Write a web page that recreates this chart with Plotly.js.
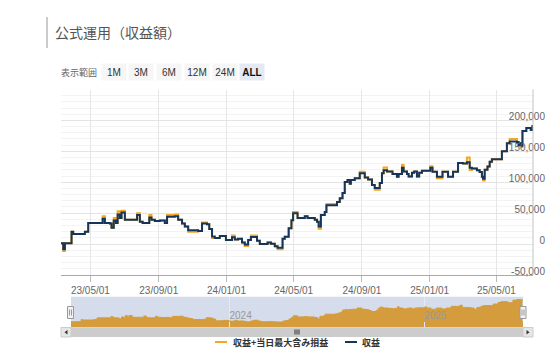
<!DOCTYPE html>
<html>
<head>
<meta charset="utf-8">
<script src="https://cdn.plot.ly/plotly-3.0.1.min.js"></script>
<style>
html,body{margin:0;padding:0;background:#fff;}
#chart{width:552px;height:357px;}
</style>
</head>
<body>
<div id="chart"></div>
<script>
// ---- data ----
const dates = [
'2023-03-09','2023-03-13','2023-03-16','2023-03-28','2023-03-31','2023-04-21','2023-04-27','2023-05-23','2023-05-27','2023-06-05',
'2023-06-08','2023-06-12','2023-06-16','2023-06-19','2023-06-23','2023-06-26','2023-07-02','2023-07-24','2023-07-29','2023-08-03',
'2023-08-15','2023-08-19','2023-08-25','2023-09-03','2023-09-12','2023-09-16','2023-09-30','2023-10-06','2023-10-13','2023-10-18',
'2023-10-24','2023-11-11','2023-11-18','2023-11-27','2023-12-01','2023-12-06','2023-12-11','2023-12-20','2023-12-31','2024-01-11',
'2024-01-16','2024-01-22','2024-01-29','2024-02-03','2024-02-09','2024-02-14','2024-02-25','2024-03-01','2024-03-15','2024-03-21',
'2024-03-28','2024-04-02','2024-04-11','2024-04-15','2024-04-22','2024-04-27','2024-04-30','2024-05-08','2024-05-21','2024-05-26',
'2024-06-08','2024-06-12','2024-06-15','2024-06-19','2024-06-26','2024-06-29','2024-07-18','2024-07-23','2024-07-28','2024-08-01',
'2024-08-06','2024-08-10','2024-08-12','2024-08-19','2024-08-28','2024-09-06','2024-09-12','2024-09-19','2024-09-24','2024-10-03',
'2024-10-07','2024-10-10','2024-10-16','2024-10-26','2024-11-03','2024-11-06','2024-11-12','2024-11-15','2024-11-21','2024-11-24',
'2024-11-30','2024-12-04','2024-12-09','2024-12-13','2024-12-18','2025-01-02','2025-01-06','2025-01-14','2025-01-24','2025-02-03',
'2025-02-12','2025-02-21','2025-03-02','2025-03-09','2025-03-14','2025-03-18','2025-03-27','2025-04-01','2025-04-05','2025-04-07',
'2025-04-10','2025-04-15','2025-04-19','2025-04-23','2025-05-11','2025-05-20','2025-05-25','2025-06-07','2025-06-10','2025-06-14',
'2025-06-16','2025-06-17','2025-06-24','2025-07-02','2025-07-05'
];

// 収益
const profit = [
1500,-8500,1500,19800,16400,19800,34200,41000,34200,33200,
26300,38200,34200,48000,42100,51000,39200,47000,36200,34200,
43100,39200,37200,38200,34200,44100,45100,39200,33200,28300,
22300,21300,33200,32200,24300,12400,10000,12900,6500,11000,
7500,8500,2500,-500,6500,11500,5500,0,2500,500,
-3500,-6000,8500,12000,25800,38700,50000,42100,45100,42100,
39200,36200,28300,47000,52000,62900,67900,74300,82700,100500,
103500,97600,103500,106500,114400,107500,104500,95600,90600,98600,
114400,119400,117400,113400,109000,113400,123300,117400,113400,109500,
115400,117400,109500,115400,118400,123300,116900,109000,116900,109000,
116900,131200,130200,132200,123300,122300,119400,116400,109000,105500,
120400,125300,133200,137200,150000,163000,166000,165000,160000,163000,
159000,182700,187700,184700,192600
];

// 収益+当日最大含み損益
const profitWithMax = [
1500,-11000,1500,19800,16400,19800,34200,45000,34200,33200,
26300,42000,34200,53000,42100,54000,39200,50000,36200,34200,
47000,39200,37200,38200,34200,47000,48000,39200,33200,28300,
20000,21300,35000,32200,24300,10000,10000,12900,6500,14000,
7500,8500,2500,-3000,6500,14000,5500,0,2500,500,
-3500,-8500,8500,12000,25800,38700,52000,42100,45100,42100,
39200,36200,25000,47000,52000,65000,67900,74300,82700,100500,
103500,97600,103500,106500,117000,107500,104500,95600,88000,98600,
114400,124000,117400,113400,109000,113400,128000,117400,113400,109500,
115400,117400,109500,115400,118400,126000,116900,106500,116900,109000,
116900,131200,130200,140000,120000,122300,119400,116400,109000,103000,
120400,125300,133200,137200,150000,163000,170000,165000,160000,163000,
157000,182700,187700,184700,192600
];

const seriesNames = ['収益+当日最大含み損益', '収益'];
const yTickVals = [-50000, 0, 50000, 100000, 150000, 200000, 250000];
const yTickText = ['-50,000', '0', '50,000', '100,000', '150,000', '200,000', ''];
const rangeButtons = ['1M', '3M', '6M', '12M', '24M', 'ALL'];
const titleText = '公式運用（収益額）';
const rangeLabel = '表示範囲';

// ---- layout helpers (pixel -> paper) ----
const W = 552, H = 357;
const X = p => p / W;
const Y = p => 1 - p / H;

const ORANGE = '#f5a623';
const NAVY = '#15365a';
const NAVFILL = '#d49c3c';

const traces = [
  {x: dates, y: profitWithMax, name: seriesNames[0], type: 'scatter', mode: 'lines',
   line: {color: ORANGE, width: 2, shape: 'hv'}, xaxis: 'x', yaxis: 'y', showlegend: false},
  {x: dates, y: profit, name: seriesNames[1], type: 'scatter', mode: 'lines',
   line: {color: NAVY, width: 2, shape: 'hv'}, xaxis: 'x', yaxis: 'y', showlegend: false},
  {x: dates, y: profitWithMax, name: seriesNames[0], type: 'scatter', mode: 'lines',
   line: {color: NAVFILL, width: 1, shape: 'hv'}, fill: 'tozeroy', fillcolor: NAVFILL,
   xaxis: 'x2', yaxis: 'y2', showlegend: false}
];

const btnX = [113.8, 141.3, 169, 197, 224.7, 252];
const annotations = [
  {text: rangeLabel, x: X(79.2), y: Y(72.5), xref: 'paper', yref: 'paper', showarrow: false,
   xanchor: 'center', yanchor: 'middle', font: {size: 9, color: '#666', family: 'Noto Sans CJK JP'}}
];
rangeButtons.forEach((b, i) => {
  const active = b === 'ALL';
  annotations.push({
    text: active ? '<b>' + b + '</b>' : b,
    x: X(btnX[i]), y: Y(72.3), xref: 'paper', yref: 'paper', showarrow: false,
    xanchor: 'center', yanchor: 'middle', width: 24, height: 16, borderpad: 0,
    bgcolor: active ? '#e4e9f4' : '#f6f6f6',
    font: {size: 10, color: active ? '#111' : '#333', family: 'Liberation Sans, Arial, sans-serif'}
  });
});
annotations.push(
  {text: '<b>' + seriesNames[0] + '</b>', x: X(231), y: Y(342), xref: 'paper', yref: 'paper', showarrow: false,
   xanchor: 'left', yanchor: 'middle', font: {size: 9, color: '#333', family: 'Noto Sans CJK JP'}},
  {text: '<b>' + seriesNames[1] + '</b>', x: X(359.5), y: Y(342), xref: 'paper', yref: 'paper', showarrow: false,
   xanchor: 'left', yanchor: 'middle', font: {size: 9, color: '#333', family: 'Noto Sans CJK JP'}}
);

const P = (x, y) => X(x).toFixed(5) + ',' + Y(y).toFixed(5);
const shapes = [
  // title bar
  {type: 'line', xref: 'paper', yref: 'paper', x0: X(47), x1: X(47), y0: Y(17), y1: Y(48),
   line: {color: '#cccccc', width: 2}},
  // navigator mask
  {type: 'rect', xref: 'paper', yref: 'paper', x0: X(71), x1: X(523), y0: Y(327.3), y1: Y(296.7),
   fillcolor: '#d5dcec', line: {width: 0}, layer: 'below'},
  // navigator fill below zero
  {type: 'rect', xref: 'paper', yref: 'paper', x0: X(71), x1: X(523), y0: Y(327.3), y1: Y(321.6),
   fillcolor: NAVFILL, line: {width: 0}, layer: 'below'},
  // right border of plot
  {type: 'line', xref: 'paper', yref: 'paper', x0: X(533), x1: X(533), y0: Y(275), y1: Y(89.5),
   line: {color: '#c4c4c4', width: 1}},
  // scrollbar track
  {type: 'rect', xref: 'paper', yref: 'paper', x0: X(71), x1: X(523), y0: Y(337), y1: Y(327.5),
   fillcolor: '#cccccc', line: {width: 0}},
  // scrollbar buttons
  {type: 'rect', xref: 'paper', yref: 'paper', x0: X(61), x1: X(71), y0: Y(337), y1: Y(327.5),
   fillcolor: '#e6e6e6', line: {color: '#cccccc', width: 1}},
  {type: 'rect', xref: 'paper', yref: 'paper', x0: X(523), x1: X(533), y0: Y(337), y1: Y(327.5),
   fillcolor: '#e6e6e6', line: {color: '#cccccc', width: 1}},
  {type: 'path', xref: 'paper', yref: 'paper',
   path: 'M' + P(67.5, 330) + 'L' + P(67.5, 334.5) + 'L' + P(64.5, 332.25) + 'Z',
   fillcolor: '#333', line: {width: 0}},
  {type: 'path', xref: 'paper', yref: 'paper',
   path: 'M' + P(526.5, 330) + 'L' + P(526.5, 334.5) + 'L' + P(529.5, 332.25) + 'Z',
   fillcolor: '#333', line: {width: 0}},
  // grip
  {type: 'line', xref: 'paper', yref: 'paper', x0: X(295), x1: X(295), y0: Y(329.5), y1: Y(334.5), line: {color: '#333', width: 1}},
  {type: 'line', xref: 'paper', yref: 'paper', x0: X(297), x1: X(297), y0: Y(329.5), y1: Y(334.5), line: {color: '#333', width: 1}},
  {type: 'line', xref: 'paper', yref: 'paper', x0: X(299), x1: X(299), y0: Y(329.5), y1: Y(334.5), line: {color: '#333', width: 1}},
  // handles
  {type: 'rect', xref: 'paper', yref: 'paper', x0: X(67.5), x1: X(73.5), y0: Y(318.5), y1: Y(306.5),
   fillcolor: '#f2f2f2', line: {color: '#999', width: 1}},
  {type: 'line', xref: 'paper', yref: 'paper', x0: X(69.5), x1: X(69.5), y0: Y(309.5), y1: Y(315.5), line: {color: '#999', width: 1}},
  {type: 'line', xref: 'paper', yref: 'paper', x0: X(71.5), x1: X(71.5), y0: Y(309.5), y1: Y(315.5), line: {color: '#999', width: 1}},
  {type: 'rect', xref: 'paper', yref: 'paper', x0: X(520), x1: X(526), y0: Y(318.5), y1: Y(306.5),
   fillcolor: '#f2f2f2', line: {color: '#999', width: 1}},
  {type: 'line', xref: 'paper', yref: 'paper', x0: X(522), x1: X(522), y0: Y(309.5), y1: Y(315.5), line: {color: '#999', width: 1}},
  {type: 'line', xref: 'paper', yref: 'paper', x0: X(524), x1: X(524), y0: Y(309.5), y1: Y(315.5), line: {color: '#999', width: 1}},
  // legend symbols
  {type: 'line', xref: 'paper', yref: 'paper', x0: X(215), x1: X(227), y0: Y(342), y1: Y(342), line: {color: ORANGE, width: 2}},
  {type: 'line', xref: 'paper', yref: 'paper', x0: X(345), x1: X(357), y0: Y(342), y1: Y(342), line: {color: NAVY, width: 2}}
];

const layout = {
  width: W, height: H,
  margin: {l: 0, r: 0, t: 0, b: 0, pad: 0},
  paper_bgcolor: '#ffffff', plot_bgcolor: '#ffffff',
  font: {family: 'Liberation Sans, Noto Sans CJK JP, sans-serif', size: 10, color: '#666'},
  title: {text: titleText, x: X(55), xanchor: 'left', y: Y(33.5), yanchor: 'middle',
          xref: 'paper', yref: 'paper',
          font: {size: 14, color: '#555', family: 'Noto Sans CJK JP'}},
  showlegend: false,
  xaxis: {
    domain: [X(61), X(533)], anchor: 'y', type: 'date',
    range: ['2023-03-09', '2025-07-06'],
    tickmode: 'linear', tick0: '2023-01-01', dtick: 'M4', tickformat: '%y/%m/%d',
    showgrid: true, gridcolor: '#e6e6e6', gridwidth: 1,
    showline: true, linecolor: '#aaaaaa', linewidth: 1,
    ticks: 'outside', ticklen: 6, tickcolor: '#bbbbbb',
    tickfont: {size: 10, color: '#666'}, zeroline: false, fixedrange: true
  },
  yaxis: {
    domain: [1 - 275 / H, 1 - 89.5 / H], anchor: 'free', position: X(548), side: 'right',
    range: [-50000, 250000],
    tickmode: 'array', tickvals: yTickVals, ticktext: yTickText,
    ticklabelposition: 'inside', ticklabelshift: -4, ticklabeloverflow: 'allow', ticks: '',
    showgrid: true, gridcolor: '#e3e3e3', gridwidth: 1,
    minor: {dtick: 10000, tick0: 0, showgrid: true, gridcolor: '#f3f3f3', gridwidth: 1},
    showline: false, zeroline: false,
    tickfont: {size: 10, color: '#666'}, fixedrange: true
  },
  xaxis2: {
    domain: [X(71), X(523)], anchor: 'y2', type: 'date',
    range: ['2023-03-09', '2025-07-06'],
    tickmode: 'linear', tick0: '2024-01-01', dtick: 'M12', tickformat: '%Y',
    ticklabelposition: 'inside right', ticks: '',
    showgrid: true, gridcolor: '#e4e9f4', showline: false, zeroline: false,
    tickfont: {size: 10, color: '#999'}, fixedrange: true
  },
  yaxis2: {
    domain: [1 - 327.3 / H, 1 - 296.7 / H], anchor: 'x2',
    range: [-45000, 212000], visible: false, showgrid: false, zeroline: false, fixedrange: true
  },
  shapes: shapes,
  annotations: annotations
};

Plotly.newPlot('chart', traces, layout, {displayModeBar: false, staticPlot: true});
</script>
</body>
</html>
